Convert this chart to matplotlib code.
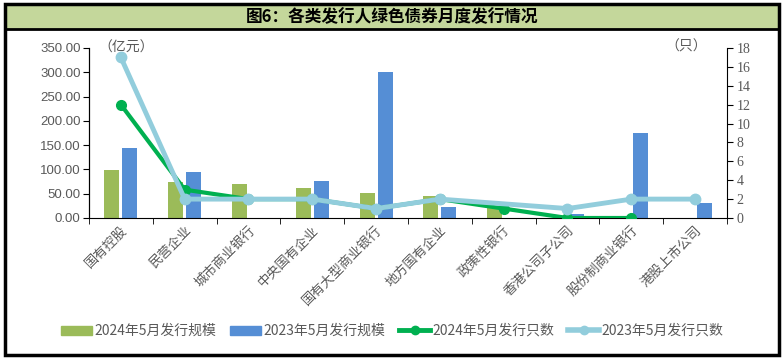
import numpy as np
import matplotlib.pyplot as plt
from matplotlib.patches import Rectangle
from matplotlib.lines import Line2D

plt.rcParams['font.family'] = ['Noto Sans CJK SC', 'DejaVu Sans']

categories = ['国有控股', '民营企业', '城市商业银行', '中央国有企业', '国有大型商业银行',
              '地方国有企业', '政策性银行', '香港公司子公司', '股份制商业银行', '港股上市公司']
scale_2024 = [99, 74, 70, 62, 51, 45, 25, np.nan, np.nan, np.nan]
scale_2023 = [144, 95, np.nan, 76, 300, 22, np.nan, 8, 175, 31]
count_2024 = [12, 3, 2, 2, 1, 2, 1, 0, 0, np.nan]
count_2023 = [17, 2, 2, 2, 1, 2, np.nan, 1, 2, 2]

c_bar24 = '#9BBB59'
c_bar23 = '#558ED5'
c_line24 = '#00B050'
c_line23 = '#92CDDC'
grey = '#595959'

fig = plt.figure(figsize=(7.84, 3.6), dpi=100)

# frame and title bar
fig.patches.append(Rectangle((0.0065, 0.014), 0.987, 0.974, transform=fig.transFigure,
                             fill=False, edgecolor='black', linewidth=2.5, zorder=10))
fig.patches.append(Rectangle((0.0065, 0.92), 0.987, 0.068, transform=fig.transFigure,
                             facecolor='#C4D79B', edgecolor='black', linewidth=2, zorder=9))
fig.text(0.5, 0.953, '图6：各类发行人绿色债券月度发行情况', ha='center', va='center',
         fontsize=12, fontweight='bold', color='black', zorder=11)

ax = fig.add_axes([89/784, 1-218/360, (727-89)/784, 170/360])
ax2 = ax.twinx()

x = np.arange(len(categories))
w = 0.235
ax.bar(x - 0.14, scale_2024, w, color=c_bar24, zorder=2)
ax.bar(x + 0.14, scale_2023, w, color=c_bar23, zorder=2)

def plot_line(vals, color, lw, ms):
    v = np.array(vals, dtype=float)
    m = ~np.isnan(v)
    ax2.plot(x[m], v[m], color=color, linewidth=lw, marker='o', markersize=ms,
             solid_capstyle='round')

plot_line(count_2024, c_line24, 3, 7)
plot_line(count_2023, c_line23, 3.5, 7.5)

ax.set_xlim(-0.5, len(categories) - 0.5)
ax.set_ylim(0, 350)
ax.set_yticks(np.arange(0, 351, 50))
ax.set_yticklabels([f'{v:.2f}' for v in np.arange(0, 351, 50)], fontsize=9.5,
                   color=grey, family=['Liberation Sans'])
ax2.set_ylim(0, 18)
ax2.set_yticks(np.arange(0, 19, 2))
ax2.set_yticklabels([str(v) for v in range(0, 19, 2)], fontsize=10,
                    color=grey, family=['Liberation Serif'])

ax.set_xticks(x)
ax.set_xticklabels(categories, rotation=45, ha='right', rotation_mode='anchor',
                   fontsize=9.5, color=grey)
ax.set_xticks(np.arange(-0.5, len(categories) + 0.5, 1), minor=True)
ax.tick_params(axis='x', which='major', length=0, pad=4)
ax.tick_params(axis='x', which='minor', length=4, direction='out', color='black')
ax.tick_params(axis='y', length=4, direction='out', color='black', pad=2)
ax2.tick_params(axis='y', length=4, direction='out', color='black', pad=3)

for a in (ax, ax2):
    a.spines['top'].set_visible(False)
    a.patch.set_visible(False)
ax2.spines['bottom'].set_visible(False)
ax.spines['right'].set_visible(False)
ax2.spines['left'].set_color('black')
ax.spines['left'].set_color('black')
ax.spines['bottom'].set_color('black')
ax2.spines['right'].set_color('black')

fig.text(98/784, 1-48/360, '（亿元）', ha='left', va='center', fontsize=10, color=grey)
fig.text(665/784, 1-47/360, '（只）', ha='left', va='center', fontsize=10, color=grey)

handles = [
    Rectangle((0, 0), 1, 1, color=c_bar24),
    Rectangle((0, 0), 1, 1, color=c_bar23),
    Line2D([], [], color=c_line24, linewidth=3.5, marker='o', markersize=6),
    Line2D([], [], color=c_line23, linewidth=4, marker='o', markersize=6),
]
labels = ['2024年5月发行规模', '2023年5月发行规模', '2024年5月发行只数', '2023年5月发行只数']
leg = fig.legend(handles, labels, loc='center', bbox_to_anchor=(0.5, 1-331/360), ncol=4,
                 frameon=False, fontsize=10, handlelength=2.25, handleheight=0.6,
                 handletextpad=0.15, columnspacing=1.0)
for t in leg.get_texts():
    t.set_color(grey)

fig.savefig('out.png', dpi=100)
